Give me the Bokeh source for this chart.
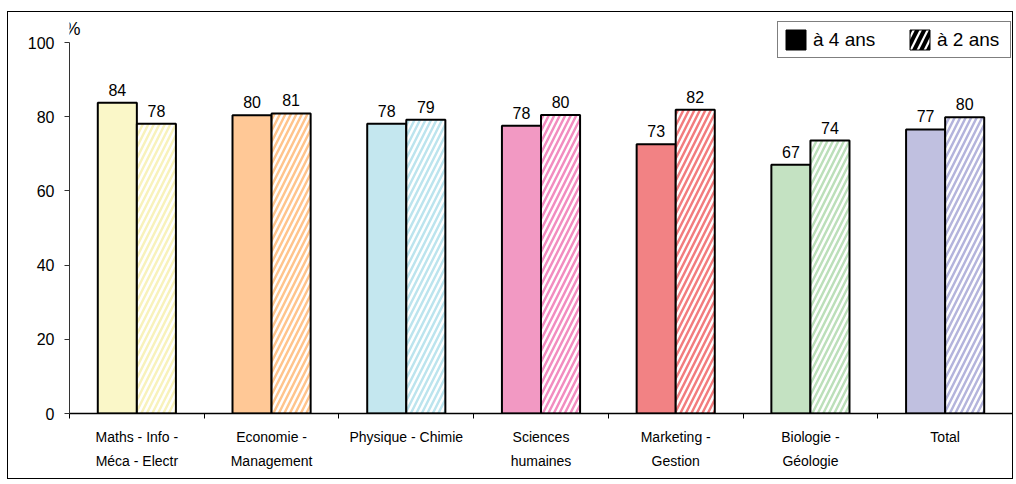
from bokeh.plotting import figure
from bokeh.models import ColumnDataSource, FixedTicker, Range1d, Legend, LegendItem, Label
from bokeh.embed import file_html
from bokeh.resources import INLINE
from bokeh.core.properties import value

# ---- data ----
categories = ["Maths - Info -\nMéca - Electr", "Economie -\nManagement", "Physique - Chimie",
              "Sciences\nhumaines", "Marketing -\nGestion", "Biologie -\nGéologie", "Total"]
four_years = [83.8, 80.4, 78.1, 77.6, 72.6, 67.1, 76.6]
two_years = [78.1, 80.9, 79.2, 80.5, 81.9, 73.6, 79.9]
labels4 = ["84", "80", "78", "78", "73", "67", "77"]
labels2 = ["78", "81", "79", "80", "82", "74", "80"]
bar_colors = ["#FAF7C8", "#FFC896", "#C4E7EF", "#F299C3", "#F28284", "#C4E2C2", "#C0C0E0"]
hatch_colors = ["#F8F2BC", "#FFC48C", "#BCE4EE", "#F28CC0", "#F27C7E", "#BCDFBA", "#B4B4DC"]
series_names = ["à 4 ans", "à 2 ans"]
y_ticks = [0, 20, 40, 60, 80, 100]

FONT = "Liberation Sans"
n = len(categories)
x4 = [i + 0.355 for i in range(n)]
x2 = [i + 0.645 for i in range(n)]

src4 = ColumnDataSource(dict(x=x4, top=four_years, color=bar_colors, label=labels4))
src2 = ColumnDataSource(dict(x=x2, top=two_years, color=hatch_colors, label=labels2))

p = figure(width=1006, height=468, output_backend="svg", toolbar_location=None,
           x_range=Range1d(0, n), y_range=Range1d(0, 106.5),
           min_border_left=61, min_border_right=2, min_border_top=6, min_border_bottom=67)
p.styles = {"border": "1px solid black", "margin-left": "7px", "margin-top": "11px"}
p.outline_line_color = None
p.xgrid.visible = False
p.ygrid.visible = False
p.background_fill_color = "white"
p.border_fill_color = "white"

p.vbar(x="x", top="top", width=0.29, source=src4, fill_color="color", line_color="black", line_width=2)
p.vbar(x="x", top="top", width=0.29, source=src2, fill_color="white", line_color="black", line_width=2,
       hatch_pattern="/", hatch_color="color", hatch_weight=2.5, hatch_scale=11)

p.text(x="x", y="top", text="label", source=src4, text_align="center", text_baseline="alphabetic",
       y_offset=-13, text_font=value(FONT), text_font_size="16px", text_color="black")
p.text(x="x", y="top", text="label", source=src2, text_align="center", text_baseline="alphabetic",
       y_offset=-13, text_font=value(FONT), text_font_size="16px", text_color="black")

# x axis: ticks at category boundaries, labels at centres
xa = p.xaxis[0]
xa.ticker = FixedTicker(ticks=[i + 0.5 for i in range(n)], minor_ticks=list(range(n + 1)))
xa.major_label_overrides = {i + 0.5: c for i, c in enumerate(categories)}
xa.major_tick_line_color = None
xa.minor_tick_in = 0
xa.minor_tick_out = 5
xa.minor_tick_line_color = "black"
xa.axis_line_color = "black"
xa.axis_line_width = 1.5
xa.major_label_text_font = FONT
xa.major_label_text_font_size = "14px"
xa.major_label_text_color = "black"
xa.major_label_text_line_height = 1.5
xa.major_label_standoff = 9

ya = p.yaxis[0]
ya.ticker = FixedTicker(ticks=y_ticks)
ya.bounds = (0, 100)
ya.major_tick_in = 0
ya.major_tick_out = 5
ya.minor_tick_line_color = None
ya.axis_line_color = "#333333"
ya.major_tick_line_color = "#333333"
ya.major_label_text_font = FONT
ya.major_label_text_font_size = "16px"
ya.major_label_text_color = "black"
ya.major_label_standoff = 10

p.add_layout(Label(x=0, y=100, text="%", x_offset=3, y_offset=4, text_align="center",
                   text_baseline="bottom", text_font=FONT, text_font_size="18px", text_color="black"))

# legend with swatch-only renderers (zero-height, outside the visible x range)
r4 = p.vbar(x=[-1], top=[0], width=0.29, fill_color="black", line_color="black")
r2 = p.vbar(x=[-1], top=[0], width=0.29, fill_color="white", line_color="black",
            hatch_pattern="/", hatch_color="black", hatch_weight=4, hatch_scale=14)
legend = Legend(items=[LegendItem(label=series_names[0], renderers=[r4]),
                       LegendItem(label=series_names[1], renderers=[r2])],
                location=(708, 355), orientation="horizontal",
                glyph_width=25, glyph_height=25, label_standoff=5, spacing=26, label_width=68,
                padding=5, margin=0, border_line_color="black", border_line_width=1,
                label_text_font=FONT, label_text_font_size="19px", label_text_color="black",
                background_fill_color="white")
p.add_layout(legend, "center")

open("out.html", "w").write(file_html(p, INLINE))
